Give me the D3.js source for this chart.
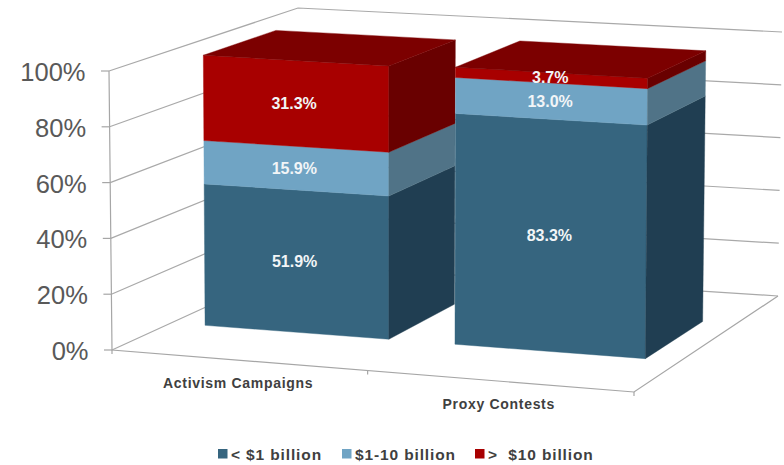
<!DOCTYPE html>
<html>
<head>
<meta charset="utf-8">
<script src="https://cdn.jsdelivr.net/npm/d3@7/dist/d3.min.js"></script>
<style>
  html, body { margin: 0; padding: 0; background: #fff; }
  svg { display: block; font-family: "Liberation Sans", Arial, sans-serif; }
</style>
</head>
<body>
<svg id="chart" width="784" height="465"></svg>
<script>
// Share of campaigns by market capitalisation of the target company
const categories = ["Activism Campaigns", "Proxy Contests"];
const seriesNames = ["< $1 billion", "$1-10 billion", ">  $10 billion"];
const under1Billion = [51.9, 83.3];
const from1To10Billion = [15.9, 13.0];
const over10Billion = [31.3, 3.7];
const valueTicks = [0, 20, 40, 60, 80, 100];
const series = [under1Billion, from1To10Billion, over10Billion];

// Face colours per series: front and side, plus the lid of the stack
const frontColors = ["#36657f", "#70a4c4", "#a80000"];
const sideColors = ["#203e52", "#507387", "#690000"];
const lidColor = "#7c0000";

const svg = d3.select("#chart");

// The eight corners of the plot box on screen
const box = {
  frontBottomLeft: [112, 350], frontBottomRight: [634, 392],
  backBottomLeft: [298, 265], backBottomRight: [778, 296],
  frontTopLeft: [109, 71], frontTopRight: [636, 103],
  backTopLeft: [298, 8], backTopRight: [782, 32]
};

// Scales along the three box axes, each normalised to 0..1
const valueScale = d3.scaleLinear().domain([0, 100]).range([0, 1]);
const categoryScale = d3.scaleBand().domain(categories).range([0, 1.005])
  .paddingInner(0.26).paddingOuter(0.144);
const widthWarp = d3.scalePow().exponent(1.03).domain([0, 1]).range([0, 1]);
const depthFront = 0.32, depthBack = 0.71;

// Trilinear placement inside the box; u runs left to right, v front to back
function project(u, v, value) {
  const t = widthWarp(u), w = valueScale(value);
  const mix = (a, b, k) => [a[0] + (b[0] - a[0]) * k, a[1] + (b[1] - a[1]) * k];
  const bottom = mix(mix(box.frontBottomLeft, box.frontBottomRight, t),
                     mix(box.backBottomLeft, box.backBottomRight, t), v);
  const top = mix(mix(box.frontTopLeft, box.frontTopRight, t),
                  mix(box.backTopLeft, box.backTopRight, t), v);
  return mix(bottom, top, w);
}

const line = d3.line();
const gridColor = "#a9a9a9", axisColor = "#a6a6a6";

// Left wall and back wall gridlines
const walls = svg.append("g").attr("fill", "none").attr("stroke", gridColor).attr("stroke-width", 1.2);
valueTicks.forEach(tick => {
  walls.append("path").attr("d", line([project(0, 0, tick), project(0, 1, tick), project(1, 1, tick)]));
});

// Floor edges and value axis
const frame = svg.append("g").attr("fill", "none").attr("stroke", axisColor).attr("stroke-width", 1.2);
frame.append("path").attr("d", line([project(0, 0, 100), project(0, 0, 0), project(1, 0, 0), project(1, 1, 0)]));
[0, 0.5, 1].forEach(u => {
  const p = project(u, 0, 0);
  frame.append("path").attr("d", line([p, [p[0], p[1] + 4]]));
});

// Value axis ticks and labels
valueTicks.forEach(tick => {
  const p = project(0, 0, tick);
  frame.append("path").attr("d", line([[p[0] - 8, p[1]], p]));
  svg.append("text").attr("x", p[0] - 23.5).attr("y", p[1] + 10)
    .attr("text-anchor", "end").attr("font-size", 25.5).attr("fill", "#595959")
    .text(tick + "%");
});

// Stacked blocks, back to front and bottom to top
categories.forEach((category, c) => {
  const u0 = categoryScale(category), u1 = u0 + categoryScale.bandwidth();
  let base = 0;
  series.forEach((values, s) => {
    const end = base + values[c];
    const g = svg.append("g");
    g.append("path").attr("fill", frontColors[s]).attr("stroke", frontColors[s]).attr("stroke-width", 0.4)
      .attr("d", line([project(u0, depthFront, base), project(u1, depthFront, base),
                       project(u1, depthFront, end), project(u0, depthFront, end)]) + "Z");
    g.append("path").attr("fill", sideColors[s]).attr("stroke", sideColors[s]).attr("stroke-width", 0.4)
      .attr("d", line([project(u1, depthFront, base), project(u1, depthBack, base),
                       project(u1, depthBack, end), project(u1, depthFront, end)]) + "Z");
    base = end;
  });
  // Only the uppermost segment's lid can be seen
  svg.append("path").attr("fill", lidColor).attr("stroke", lidColor).attr("stroke-width", 0.4)
    .attr("d", line([project(u0, depthFront, base), project(u1, depthFront, base),
                     project(u1, depthBack, base), project(u0, depthBack, base)]) + "Z");
});

// Value labels centred on the front faces
categories.forEach((category, c) => {
  const mid = categoryScale(category) + categoryScale.bandwidth() / 2;
  let base = 0;
  series.forEach(values => {
    const p = project(mid, depthFront, base + values[c] / 2);
    svg.append("text").attr("x", p[0] - 1).attr("y", p[1] + 5.5)
      .attr("text-anchor", "middle").attr("font-size", 16).attr("font-weight", "bold")
      .attr("fill", "#f2f5f7").text(values[c].toFixed(1) + "%");
    base += values[c];
  });
});

// Category labels under the floor edge
categories.forEach(category => {
  const mid = categoryScale(category) + categoryScale.bandwidth() / 2;
  const p = project(mid, 0, 0);
  svg.append("text").attr("x", p[0] - 1.5).attr("y", p[1] + 28)
    .attr("text-anchor", "middle").attr("font-size", 14).attr("font-weight", "bold")
    .attr("letter-spacing", 0.69).attr("fill", "#404040").text(category);
});

// Legend
const legendSwatchX = d3.scaleOrdinal().domain(seriesNames).range([218, 342, 475]);
seriesNames.forEach((name, s) => {
  const x = legendSwatchX(name);
  svg.append("rect").attr("x", x).attr("y", 449).attr("width", 9.5).attr("height", 9.5).attr("fill", frontColors[s]);
  svg.append("text").attr("x", x + 13).attr("y", 459.5)
    .attr("font-size", 15.5).attr("font-weight", "bold").attr("letter-spacing", 0.87)
    .attr("fill", "#404040").style("white-space", "pre").text(name);
});
</script>
</body>
</html>
